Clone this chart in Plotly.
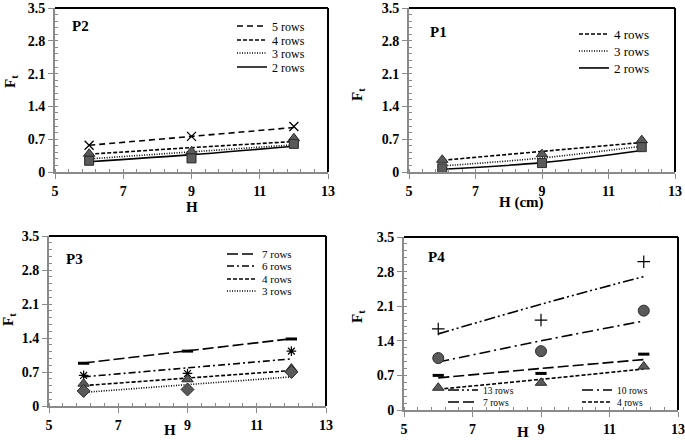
import plotly.graph_objects as go

# ---------------- data ----------------
H = [6, 9, 12]

# P2
p2_names = ["5 rows", "4 rows", "3 rows", "2 rows"]
p2_trend = {"5 rows": [0.57, 0.76, 0.95], "4 rows": [0.38, 0.52, 0.65],
            "3 rows": [0.28, 0.43, 0.58], "2 rows": [0.22, 0.37, 0.55]}
p2_points = {"5 rows": [0.57, 0.76, 0.97], "4 rows": [0.39, 0.44, 0.72],
             "2 rows": [0.24, 0.29, 0.60]}

# P1
p1_names = ["4 rows", "3 rows", "2 rows"]
p1_trend = {"4 rows": [0.25, 0.44, 0.63], "3 rows": [0.13, 0.30, 0.55],
            "2 rows": [0.06, 0.20, 0.46]}
p1_points = {"4 rows": [0.26, 0.38, 0.68], "2 rows": [0.08, 0.19, 0.53]}

# P3
p3_names = ["7 rows", "6 rows", "4 rows", "3 rows"]
p3_trend = {"7 rows": [0.885, 1.135, 1.385], "6 rows": [0.60, 0.785, 0.97],
            "4 rows": [0.42, 0.575, 0.73], "3 rows": [0.28, 0.44, 0.60]}
p3_points = {"7 rows": [0.88, 1.13, 1.38], "6 rows": [0.63, 0.67, 1.13],
             "4 rows": [0.46, 0.55, 0.77], "3 rows": [0.31, 0.34, 0.70]}

# P4
p4_names = ["13 rows", "10 rows", "7 rows", "4 rows"]
p4_trend = {"13 rows": [1.54, 2.14, 2.70], "10 rows": [0.97, 1.40, 1.80],
            "7 rows": [0.65, 0.84, 1.02], "4 rows": [0.42, 0.62, 0.83]}
p4_points = {"13 rows": [1.64, 1.82, 3.00], "10 rows": [1.05, 1.19, 2.01],
             "7 rows": [0.70, 0.74, 1.13], "4 rows": [0.45, 0.55, 0.88]}

y_ticks = [0, 0.7, 1.4, 2.1, 2.8, 3.5]
y_ticktext = ["0", "0.7", "1.4", "2.1", "2.8", "3.5"]
x_ticks = [5, 7, 9, 11, 13]
x_ticktext = ["5", "7", "9", "11", "13"]

# ---------------- styles ----------------
W, Hpx = 685, 440
FONT = "Liberation Serif"
FILL = "#5a5a5a"
EDGE = "#2a2a2a"

dash = {
    "5 rows": "6px,4px", "4 rows": "4px,2px", "3 rows": "1px,1.5px", "2 rows": "solid",
    "7 rows": "11px,4px", "6 rows": "7px,3px,2px,3px",
    "13 rows": "11px,3px,2px,3px,2px,3px", "10 rows": "11px,4px,2px,4px",
}
marker_style = {
    "square": dict(symbol="square", size=9, color=FILL, line=dict(color=EDGE, width=1)),
    "triangle": dict(symbol="triangle-up", size=10, color=FILL, line=dict(color=EDGE, width=1)),
    "diamond": dict(symbol="diamond", size=10, color=FILL, line=dict(color=EDGE, width=1)),
    "circle": dict(symbol="circle", size=11, color=FILL, line=dict(color=EDGE, width=1)),
    "x": dict(symbol="x-thin-open", size=9, color="black", line=dict(color="black", width=1.3)),
    "plus": dict(symbol="cross-thin-open", size=9, color="black", line=dict(color="black", width=1.2)),
    "asterisk": dict(symbol="asterisk-open", size=8, color="black", line=dict(color="black", width=1.2)),
    "dash": dict(symbol="line-ew-open", size=8, color="black", line=dict(color="black", width=3)),
}

p2_mk = {"5 rows": "x", "4 rows": "triangle", "2 rows": "square"}
p1_mk = {"4 rows": "triangle", "2 rows": "square"}
p3_mk = {"7 rows": "dash", "6 rows": "asterisk", "4 rows": "triangle", "3 rows": "diamond"}
p4_mk = {"13 rows": "plus", "10 rows": "circle", "7 rows": "dash", "4 rows": "triangle"}

fig = go.Figure()
legend_layouts = {}
leg_counter = [0]


def add_panel(ax, names, trend, points, mk, leg_pos, leg_font):
    xa = "x" if ax == 1 else f"x{ax}"
    ya = "y" if ax == 1 else f"y{ax}"
    for i, n in enumerate(names):
        leg_counter[0] += 1
        lid = "legend" if leg_counter[0] == 1 else f"legend{leg_counter[0]}"
        lx, ly = leg_pos[i]
        legend_layouts[lid] = dict(
            x=lx / W, y=1 - ly / Hpx, xanchor="left", yanchor="middle",
            xref="paper", yref="paper", bgcolor="rgba(0,0,0,0)", borderwidth=0,
            font=dict(family=FONT, size=leg_font, color="black"),
        )
        fig.add_trace(go.Scatter(
            x=H, y=trend[n], mode="lines", name=n, xaxis=xa, yaxis=ya,
            line=dict(color="black", width=1.6, dash=dash[n], shape="spline"),
            legend=lid, showlegend=True, hoverinfo="skip"))
    for n in names:
        if n in points:
            fig.add_trace(go.Scatter(
                x=H, y=points[n], mode="markers", xaxis=xa, yaxis=ya,
                marker=marker_style[mk[n]], showlegend=False))


add_panel(1, p2_names, p2_trend, p2_points, p2_mk,
          [(232, 26), (232, 40), (232, 53), (232, 67)], 12)
add_panel(2, p1_names, p1_trend, p1_points, p1_mk,
          [(574, 34), (574, 51), (574, 68)], 13)
add_panel(3, p3_names, p3_trend, p3_points, p3_mk,
          [(222, 254), (222, 266), (222, 279), (222, 291)], 11)
add_panel(4, p4_names, p4_trend, p4_points, p4_mk,
          [(443, 390), (577, 390), (443, 402), (577, 402)], 9.5)

# ---------------- axes ----------------
panels = {
    1: dict(x0=55, x1=328, y0=8, y1=172),
    2: dict(x0=409, x1=675, y0=8, y1=172),
    3: dict(x0=49, x1=326, y0=236, y1=406),
    4: dict(x0=404, x1=678, y0=237, y1=410),
}
AXC = "#8a8a8a"
layout = {}
for k, p in panels.items():
    xk = "xaxis" if k == 1 else f"xaxis{k}"
    yk = "yaxis" if k == 1 else f"yaxis{k}"
    ya_ref = "y" if k == 1 else f"y{k}"
    xa_ref = "x" if k == 1 else f"x{k}"
    layout[xk] = dict(
        domain=[p["x0"] / W, p["x1"] / W], anchor=ya_ref, range=[5, 13], automargin=False,
        tickvals=x_ticks, ticktext=x_ticktext, ticks="outside", ticklen=5,
        tickcolor=AXC, tickwidth=1, showline=True, linecolor=AXC, linewidth=2,
        showgrid=False, zeroline=False,
        tickfont=dict(family=FONT, size=14, color="black", weight="bold"),
        minor=dict(dtick=0.4, tick0=5, ticks="inside", ticklen=3, tickcolor=AXC, showgrid=False),
    )
    layout[yk] = dict(
        domain=[1 - p["y1"] / Hpx, 1 - p["y0"] / Hpx], anchor=xa_ref, range=[0, 3.5],
        automargin=False,
        tickvals=y_ticks, ticktext=y_ticktext, ticks="outside", ticklen=5,
        tickcolor=AXC, tickwidth=1, showline=True, linecolor=AXC, linewidth=2,
        showgrid=False, zeroline=False,
        tickfont=dict(family=FONT, size=14, color="black", weight="bold"),
        minor=dict(dtick=0.14, tick0=0, ticks="inside", ticklen=3, tickcolor=AXC, showgrid=False),
    )

shapes = []
for k, p in panels.items():
    xr = "x domain" if k == 1 else f"x{k} domain"
    yr = "y domain" if k == 1 else f"y{k} domain"
    shapes.append(dict(type="line", xref=xr, yref=yr, x0=0, x1=1, y0=1, y1=1,
                       line=dict(color="black", width=2)))
    shapes.append(dict(type="line", xref=xr, yref=yr, x0=1, x1=1, y0=0, y1=1,
                       line=dict(color="black", width=2)))

annotations = []


def ann(text, x, y, size, angle=0, xanchor="center"):
    annotations.append(dict(text=text, x=x / W, y=1 - y / Hpx, xref="paper", yref="paper",
                            showarrow=False, textangle=angle, xanchor=xanchor, yanchor="middle",
                            font=dict(family=FONT, size=size, color="black", weight="bold")))


# panel labels
ann("P2", 70, 26, 15, xanchor="left")
ann("P1", 428, 32, 15, xanchor="left")
ann("P3", 64, 259, 15, xanchor="left")
ann("P4", 426, 257, 15, xanchor="left")
# x titles
ann("H", 192, 207, 15)
ann("H (cm)", 521, 202, 15)
ann("H", 170, 430, 15)
ann("H", 523, 432, 15)
# y titles
ann("F<sub>t</sub>", 11, 82, 15, angle=-90)
ann("F<sub>t</sub>", 358, 95, 15, angle=-90)
ann("F<sub>t</sub>", 9, 320, 15, angle=-90)
ann("F<sub>t</sub>", 358, 317, 15, angle=-90)

fig.update_layout(
    width=W, height=Hpx, margin=dict(l=0, r=0, t=0, b=0, autoexpand=False),
    paper_bgcolor="white", plot_bgcolor="white",
    shapes=shapes, annotations=annotations, **layout, **legend_layouts,
)

fig.write_html(
    "out.html",
    config={"displayModeBar": False},
    post_script="document.body.style.margin='0';document.body.style.overflow='hidden';",
)
